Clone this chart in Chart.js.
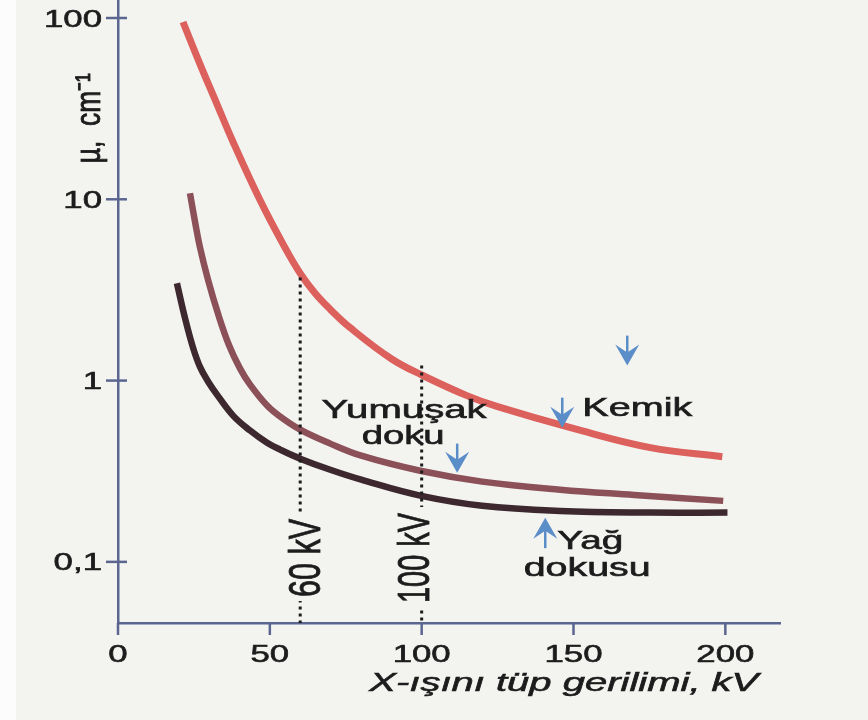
<!DOCTYPE html>
<html>
<head>
<meta charset="utf-8">
<script src="https://cdn.jsdelivr.net/npm/chart.js@4.4.1/dist/chart.umd.min.js"></script>
<style>
  html, body { margin: 0; padding: 0; background: #f3f3f0; }
  canvas { display: block; }
</style>
</head>
<body>
<canvas id="mu" width="868" height="720"></canvas>
<script>
// Kemik (bone)
const kemikKv = [21.4, 27, 32.3, 37.9, 46.8, 54.4, 60, 64.9, 69.9, 76.4, 90, 100.2, 114.9, 125, 150.2, 175.3, 199];
const kemikMu = [95, 55.7, 34.4, 20.7, 9.87, 5.64, 3.9, 3.03, 2.47, 1.96, 1.32, 1.07, 0.826, 0.718, 0.543, 0.427, 0.38];

// Yumuşak doku (soft tissue)
const yumusakKv = [23.7, 25.4, 27, 29.7, 33, 36.6, 40.2, 43.5, 49.1, 53.4, 60, 69.9, 80.1, 99.5, 119.9, 145.6, 170, 199.3];
const yumusakMu = [10.8, 7.46, 5.43, 3.57, 2.32, 1.56, 1.164, 0.95, 0.728, 0.633, 0.536, 0.449, 0.385, 0.318, 0.277, 0.25, 0.234, 0.217];

// Yağ dokusu (fat)
const yagKv = [19.4, 22.1, 24.7, 27, 29.7, 32.6, 37.9, 43.5, 49.1, 53.4, 60, 69.9, 80.1, 99.5, 119.9, 145.6, 175.3, 200.7];
const yagMu = [3.44, 2.2, 1.52, 1.19, 0.986, 0.837, 0.641, 0.53, 0.454, 0.416, 0.371, 0.322, 0.284, 0.232, 0.204, 0.191, 0.187, 0.187];

// dotted kV guides: where they start on top
const guideKv = [60, 100];
const guideTop = [3.7, 1.21];
const guideLabels = ['60 kV', '100 kV'];

const xTicks = [0, 50, 100, 150, 200];
const yTicks = [0.1, 1, 10, 100];
const yTickLabels = ['0,1', '1', '10', '100'];

const X_MIN = 0, X_MAX = 218;
const Y_MIN = 0.046, Y_MAX = 125.7;

const AXIS = '#5b6690';
const INK = '#1c1c1c';
const ARROW = '#5b8dc8';
const SX = 1.45; // scan is stretched sideways

const FONT = '"Liberation Sans", Arial, sans-serif';

// curve names (position in data units, width in px)
const names = [
  {text: 'Kemik', kv: 171, mu: 0.641, w: 110},
  {text: 'Yumuşak', kv: 94.2, mu: 0.625, w: 165},
  {text: 'doku', kv: 93.9, mu: 0.449, w: 83},
  {text: 'Yağ', kv: 155.5, mu: 0.118, w: 66},
  {text: 'dokusu', kv: 154.5, mu: 0.0838, w: 127}
];

const arrows = [
  {kv: 167.7, tip: 1.21, tail: 1.77},
  {kv: 146.3, tip: 0.55, tail: 0.805},
  {kv: 111.7, tip: 0.31, tail: 0.449},
  {kv: 140.7, tip: 0.175, tail: 0.119}
];

function pts(xs, ys) {
  return xs.map((x, i) => ({x: x, y: ys[i]}));
}

function ink(c, text) {
  c.fillText(text, 0, 0);
  c.lineWidth = 0.6;
  c.strokeStyle = INK;
  c.strokeText(text, 0, 0);
}

function wideText(c, text, x, y, font, width, align) {
  c.save();
  c.font = font;
  const w = c.measureText(text).width;
  const sx = width ? width / w : SX;
  c.translate(x, y);
  c.scale(sx, 1);
  c.textAlign = align || 'center';
  c.textBaseline = 'alphabetic';
  ink(c, text);
  c.restore();
}

// rotated text reading upward, glyph height stretched sideways
function upText(c, text, x, y, font, len) {
  c.save();
  c.font = font;
  const w = c.measureText(text).width;
  c.translate(x, y);
  c.scale(SX, 1);
  c.rotate(-Math.PI / 2);
  c.scale(len / w, 1);
  c.textAlign = 'center';
  c.textBaseline = 'alphabetic';
  ink(c, text);
  c.restore();
}

const paper = {
  id: 'paper',
  beforeDraw(chart) {
    const c = chart.ctx;
    c.save();
    c.fillStyle = '#f3f3f0';
    c.fillRect(0, 0, chart.width, chart.height);
    c.fillStyle = '#fcfcfc';
    c.fillRect(0, 0, 16, chart.height);
    c.restore();
  }
};

const notes = {
  id: 'notes',
  afterDraw(chart) {
    const c = chart.ctx;
    const xs = chart.scales.x, ys = chart.scales.y;
    const a = chart.chartArea;
    c.save();
    c.fillStyle = INK;

    // y ticks cross the axis
    yTicks.forEach((v, i) => {
      const py = ys.getPixelForValue(v);
      c.strokeStyle = AXIS;
      c.lineWidth = 2.5;
      c.beginPath();
      c.moveTo(a.left - 12, py);
      c.lineTo(a.left + 9, py);
      c.stroke();
      wideText(c, yTickLabels[i], a.left - 16, py + 8.5, '24px ' + FONT, null, 'right');
    });

    // x ticks
    xTicks.forEach(v => {
      const px = xs.getPixelForValue(v);
      c.strokeStyle = AXIS;
      c.lineWidth = 2.5;
      c.beginPath();
      c.moveTo(px, a.bottom);
      c.lineTo(px, a.bottom + 12);
      c.stroke();
      wideText(c, String(v), px, a.bottom + 39, '24px ' + FONT, null, 'center');
    });

    // axis titles
    wideText(c, 'X-ışını tüp gerilimi, kV', xs.getPixelForValue(146.8), ys.getPixelForValue(0.0194),
      'italic 25px ' + FONT, 389, 'center');
    upText(c, 'µ,  cm⁻¹', xs.getPixelForValue(-5.9), ys.getPixelForValue(28), '24px ' + FONT, 90);

    // labels on the dotted guides (paper behind so the dots break)
    const shift = [4, -9];
    guideKv.forEach((kv, i) => {
      const px = xs.getPixelForValue(kv) + shift[i];
      const py = ys.getPixelForValue(0.105);
      const len = i === 0 ? 78 : 90;
      c.fillStyle = '#f3f3f0';
      c.fillRect(px - 15, py - len / 2 - 6, 30, len + 10);
      c.fillStyle = INK;
      upText(c, guideLabels[i], px + 16, py, '30px ' + FONT, len);
    });

    // curve names
    names.forEach(n => {
      wideText(c, n.text, xs.getPixelForValue(n.kv), ys.getPixelForValue(n.mu), '25px ' + FONT, n.w, 'center');
    });

    // blue arrows
    c.fillStyle = ARROW;
    c.strokeStyle = ARROW;
    c.lineWidth = 2.5;
    arrows.forEach(ar => {
      const px = xs.getPixelForValue(ar.kv);
      const ty = ys.getPixelForValue(ar.tip);
      const sy = ys.getPixelForValue(ar.tail);
      const d = ty > sy ? 1 : -1;
      c.beginPath();
      c.moveTo(px, sy);
      c.lineTo(px, ty - d * 10);
      c.stroke();
      c.beginPath();
      c.moveTo(px, ty);
      c.lineTo(px - 12, ty - d * 21);
      c.lineTo(px, ty - d * 13);
      c.lineTo(px + 12, ty - d * 21);
      c.closePath();
      c.fill();
    });
    c.restore();
  }
};

const guideSets = guideKv.map((kv, i) => ({
  data: [{x: kv, y: guideTop[i]}, {x: kv, y: Y_MIN}],
  borderColor: '#1c1c1c',
  borderWidth: 3,
  borderDash: [3, 4],
  borderCapStyle: 'butt',
  pointRadius: 0,
  tension: 0
}));

function curve(data, color, width) {
  return {
    data: data,
    borderColor: color,
    borderWidth: width,
    borderCapStyle: 'butt',
    pointRadius: 0,
    tension: 0.4
  };
}

new Chart(document.getElementById('mu'), {
  type: 'line',
  data: {
    datasets: guideSets.concat([
      curve(pts(yagKv, yagMu), '#3c282e', 6.5),
      curve(pts(yumusakKv, yumusakMu), '#8c5058', 6.5),
      curve(pts(kemikKv, kemikMu), '#dc605c', 7)
    ])
  },
  options: {
    responsive: false,
    animation: false,
    events: [],
    layout: {padding: {left: 0, right: 88, top: 0, bottom: 0}},
    plugins: {legend: {display: false}, tooltip: {enabled: false}},
    scales: {
      x: {
        type: 'linear',
        min: X_MIN,
        max: X_MAX,
        grid: {display: false},
        ticks: {display: false},
        border: {display: true, color: AXIS, width: 2.5},
        afterFit(s) { s.height = 97; }
      },
      y: {
        type: 'logarithmic',
        min: Y_MIN,
        max: Y_MAX,
        grid: {display: false},
        ticks: {display: false},
        border: {display: true, color: AXIS, width: 2.5},
        afterFit(s) { s.width = 118; }
      }
    }
  },
  plugins: [paper, notes]
});
</script>
</body>
</html>
